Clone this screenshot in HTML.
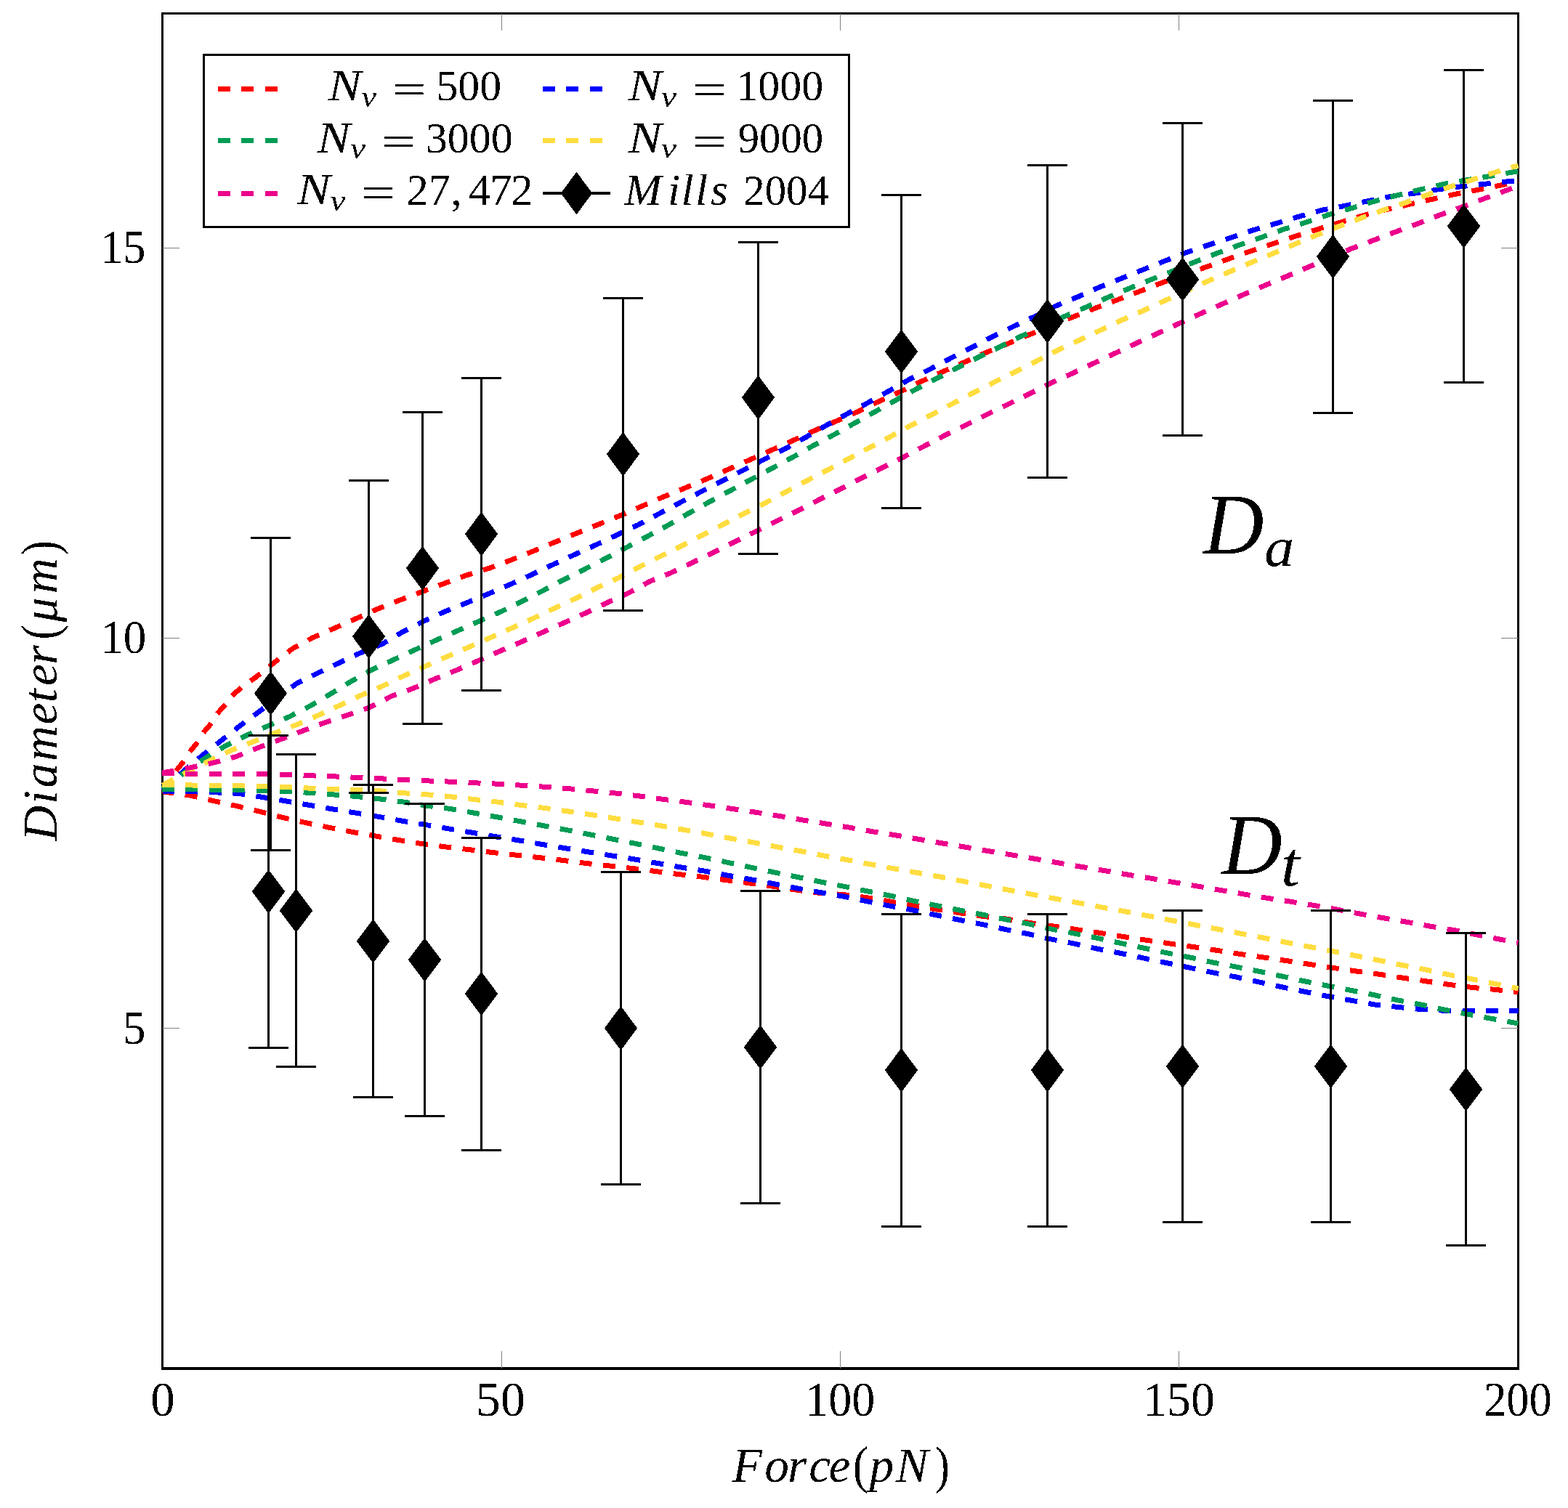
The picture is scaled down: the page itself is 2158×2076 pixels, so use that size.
<!DOCTYPE html>
<html><head><meta charset="utf-8"><title>Diameter vs Force</title><style>
html,body{margin:0;padding:0;background:#fff;overflow:hidden;}svg{display:block;}
text{font-family:"Liberation Serif","DejaVu Serif",serif;fill:#000;}
.it{font-style:italic;}
</style></head><body>
<svg width="2158" height="2076" viewBox="0 0 2158 2076">
<rect x="0" y="0" width="2158" height="2076" fill="#fff"/>
<path d="M222 17h1869v3h-1869zM222 1882h1869v4h-1869zM222 17h3v1869h-3zM2088 17h3v1869h-3z" fill="#000"/>
<path d="M690.5 1884V1860M690.5 18.5V42M1156.5 1884V1860M1156.5 18.5V42M1622.5 1884V1860M1622.5 18.5V42M223.5 341.5H247M2089.5 341.5H2066M223.5 878.5H247M2089.5 878.5H2066M223.5 1415.5H247M2089.5 1415.5H2066" stroke="#808080" stroke-width="1" fill="none"/>
<g fill="none" stroke-width="7.0" stroke-dasharray="17 15.45" stroke-linejoin="round" shape-rendering="crispEdges">
<polyline points="223.5,1091.0 232.0,1077.0 240.7,1063.1 254.2,1046.4 259.0,1037.7 273.3,1020.2 278.0,1010.7 292.4,994.0 297.1,984.4 311.5,968.5 317.0,959.7 334.5,944.6 351.6,932.6 377.7,911.9 402.9,892.8 431.2,877.5 461.1,864.5 490.2,851.5 520.4,838.0 550.4,826.1 581.0,814.5 611.2,803.3 641.8,792.0 672.9,782.4 702.7,771.2 733.3,759.0 763.3,746.5 793.3,734.3 822.9,722.2 853.1,710.0 883.1,697.0 912.7,684.1 942.9,671.8 972.9,659.2 1002.0,646.3 1031.6,633.1 1061.6,619.8 1091.2,606.5 1120.8,592.9 1151.4,579.6 1180.6,566.7 1210.0,552.4 1239.2,539.2 1268.0,525.1 1297.8,511.6 1327.8,498.4 1357.6,485.1 1387.6,472.9 1417.1,460.6 1447.0,448.3 1477.3,436.1 1507.3,424.3 1538.0,412.7 1567.8,401.4 1598.4,389.6 1628.0,378.8 1658.0,368.3 1689.8,356.8 1720.3,346.0 1751.5,335.6 1782.0,325.6 1813.2,315.7 1844.2,306.3 1875.4,296.9 1907.1,288.7 1938.0,281.7 1969.7,274.6 2001.4,267.6 2033.1,261.5 2064.8,255.2 2089.5,250.0" stroke="#ff0000" stroke-dashoffset="-2.79"/>
<polyline points="223.5,1091.0 231.2,1090.8 262.9,1095.3 294.5,1102.7 326.7,1109.8 358.2,1117.3 389.4,1125.5 421.0,1132.7 452.7,1139.2 484.7,1145.3 516.9,1151.0 548.6,1156.5 580.8,1161.6 612.2,1165.8 644.9,1169.6 677.6,1173.5 709.8,1177.1 741.8,1180.6 774.1,1184.3 806.1,1188.4 838.8,1192.0 870.8,1195.5 903.1,1199.6 935.1,1203.7 967.3,1207.3 998.0,1211.5 1031.8,1215.9 1064.1,1220.2 1095.7,1225.1 1127.8,1229.3 1160.0,1231.5 1192.0,1235.5 1224.3,1241.0 1256.3,1246.5 1288.4,1251.8 1320.6,1256.7 1352.7,1261.4 1384.5,1265.0 1416.7,1270.4 1449.4,1274.9 1481.4,1279.6 1513.7,1284.3 1545.7,1289.4 1578.0,1294.3 1610.0,1299.0 1642.2,1303.5 1673.9,1308.2 1705.9,1313.3 1737.8,1317.8 1769.9,1322.5 1802.2,1327.4 1834.2,1332.3 1866.3,1337.0 1898.8,1341.3 1930.9,1346.2 1962.9,1350.9 1995.0,1355.5 2027.1,1359.5 2059.2,1362.5 2089.5,1366.0" stroke="#ff0000" stroke-dashoffset="1.03"/>
<polyline points="223.5,1089.0 250.0,1064.0 279.7,1039.0 305.0,1019.1 330.2,999.2 356.2,980.0 382.0,960.0 408.3,941.0 437.4,926.5 466.4,912.7 494.0,899.7 525.5,886.9 553.7,870.2 582.7,855.3 612.2,842.0 642.4,829.8 673.1,817.1 702.7,804.3 732.0,791.0 761.2,777.1 790.8,763.5 820.0,750.2 849.4,736.3 879.0,722.2 907.6,706.9 936.1,691.8 964.7,676.9 993.9,662.0 1022.9,647.3 1052.4,632.0 1080.6,617.8 1109.0,602.0 1137.1,585.7 1165.1,570.2 1193.7,554.9 1221.8,539.2 1250.4,522.9 1279.4,508.6 1308.0,493.3 1337.1,478.4 1365.7,463.7 1394.7,449.4 1423.3,436.1 1454.9,420.4 1483.5,408.6 1513.1,395.3 1542.7,383.5 1573.3,371.2 1603.3,359.2 1633.5,347.3 1664.6,336.8 1695.2,326.7 1726.4,316.2 1757.3,307.3 1787.9,298.1 1819.5,289.2 1851.2,283.3 1882.9,276.7 1914.6,270.4 1946.3,266.2 1978.0,261.0 2010.8,256.8 2043.2,253.3 2075.3,249.8 2089.5,248.5" stroke="#0000ff" stroke-dashoffset="-0.95"/>
<polyline points="223.5,1089.0 231.2,1089.0 263.9,1089.8 296.5,1090.8 328.8,1092.4 360.4,1097.3 392.4,1102.7 424.7,1108.2 456.7,1113.7 488.8,1119.0 522.0,1124.5 552.7,1130.0 584.7,1135.3 616.3,1140.7 649.0,1146.1 681.0,1151.6 712.9,1156.7 744.9,1162.2 776.9,1167.6 808.8,1172.7 840.8,1177.8 872.9,1182.9 904.7,1188.4 936.7,1193.9 969.0,1199.0 998.0,1204.5 1031.8,1210.4 1064.1,1216.5 1095.7,1222.7 1127.8,1228.4 1160.0,1233.9 1192.0,1240.6 1224.3,1247.1 1256.3,1252.9 1288.4,1259.8 1320.6,1266.5 1352.7,1272.7 1384.5,1279.7 1415.1,1285.7 1446.3,1292.9 1478.0,1299.0 1510.0,1306.1 1541.8,1312.2 1573.9,1319.0 1605.1,1325.5 1637.1,1332.2 1668.8,1338.8 1700.8,1344.9 1733.0,1352.0 1765.2,1359.0 1795.9,1365.3 1828.0,1371.7 1859.7,1377.2 1891.8,1383.0 1923.9,1386.4 1955.7,1389.5 1988.1,1391.3 2021.1,1391.6 2089.5,1391.6" stroke="#0000ff" stroke-dashoffset="0.64"/>
<polyline points="223.5,1086.0 252.0,1065.0 282.8,1043.6 310.3,1026.7 339.4,1012.2 369.2,999.2 399.1,986.2 427.4,971.6 455.7,954.8 483.3,938.0 511.7,922.0 541.4,908.4 570.8,894.7 600.0,881.4 630.0,868.2 660.2,854.9 689.4,842.0 718.4,827.8 747.3,813.1 776.1,797.8 805.1,783.3 834.1,768.6 862.9,753.3 891.5,738.1 919.8,722.9 948.0,706.5 976.5,690.8 1004.9,675.5 1033.5,660.2 1062.2,644.9 1090.6,629.6 1118.8,613.7 1147.8,598.4 1175.9,582.7 1204.5,566.7 1232.0,551.4 1261.6,535.3 1290.2,520.4 1319.2,505.5 1347.8,491.2 1377.3,476.9 1405.9,462.7 1436.0,448.9 1466.1,435.1 1494.7,422.9 1524.3,409.6 1554.5,396.9 1584.5,384.7 1614.7,372.9 1644.7,360.5 1675.2,348.6 1705.7,337.3 1736.2,326.7 1766.7,315.7 1797.2,306.1 1827.7,295.8 1859.4,286.8 1890.6,277.4 1921.6,269.2 1952.8,261.5 1984.3,254.0 2016.7,248.1 2048.4,242.9 2081.2,237.1 2089.5,236.0" stroke="#009c55" stroke-dashoffset="0.72"/>
<polyline points="223.5,1086.3 263.9,1086.7 296.5,1087.1 328.8,1087.8 360.4,1088.4 393.5,1089.4 426.1,1091.4 458.4,1093.9 490.8,1096.5 523.5,1100.0 555.7,1104.1 587.3,1109.2 619.0,1113.4 651.6,1119.0 683.7,1124.7 715.3,1130.6 746.9,1136.5 779.0,1142.4 810.8,1148.6 842.9,1155.1 874.9,1161.4 906.7,1168.0 938.2,1174.5 970.0,1180.6 1000.0,1187.0 1033.5,1194.1 1065.1,1200.8 1097.1,1207.3 1128.8,1213.9 1161.0,1220.2 1192.7,1226.7 1224.3,1232.9 1255.9,1240.0 1288.0,1246.5 1320.0,1252.9 1351.6,1259.0 1384.0,1265.7 1415.1,1271.8 1446.9,1279.0 1478.6,1285.1 1510.2,1291.4 1542.2,1298.4 1573.9,1305.1 1605.9,1311.8 1637.6,1318.0 1669.2,1324.9 1701.0,1331.0 1733.1,1337.3 1765.4,1344.2 1795.9,1350.9 1828.0,1357.3 1860.1,1363.5 1891.8,1369.9 1923.4,1376.9 1955.1,1382.9 1987.2,1389.9 2018.8,1396.0 2050.9,1402.0 2081.8,1407.6 2089.5,1409.0" stroke="#009c55" stroke-dashoffset="0.53"/>
<polyline points="223.5,1081.0 256.0,1064.0 288.1,1047.4 318.0,1032.9 347.8,1021.4 378.9,1008.9 408.3,997.7 438.1,984.7 468.0,970.9 497.1,957.1 526.5,944.5 556.1,930.2 585.7,916.9 615.3,903.9 644.9,891.0 674.9,877.8 704.7,864.5 734.1,851.2 763.3,837.3 792.4,823.7 821.8,809.0 851.0,795.7 881.5,779.6 909.2,765.7 938.2,751.4 966.7,736.7 995.7,721.8 1024.9,706.5 1053.5,692.2 1082.0,676.9 1110.6,661.6 1139.2,646.9 1168.2,631.4 1196.7,616.3 1224.9,601.4 1253.9,585.5 1282.4,570.8 1311.4,555.5 1339.6,540.8 1368.8,525.9 1397.8,511.6 1426.9,496.9 1455.9,482.0 1485.5,468.2 1514.7,454.5 1543.7,440.8 1573.7,427.6 1603.5,413.7 1632.0,401.0 1660.0,388.0 1691.6,374.4 1721.7,361.5 1752.2,349.0 1782.0,336.1 1812.0,323.7 1843.0,311.5 1873.0,300.4 1902.9,289.6 1933.4,279.3 1963.9,268.5 1994.4,257.5 2025.6,247.6 2056.6,237.5 2084.3,229.3 2089.5,228.0" stroke="#ffdd40" stroke-dashoffset="0.08"/>
<polyline points="223.5,1080.6 263.9,1081.0 296.5,1081.6 328.8,1081.8 360.4,1082.7 393.5,1083.7 426.1,1085.1 458.4,1086.3 490.8,1087.3 523.5,1088.8 555.7,1091.8 588.4,1093.9 618.0,1096.5 652.7,1100.6 684.7,1104.1 716.9,1108.4 749.4,1112.4 781.6,1116.9 813.7,1121.6 845.9,1126.7 878.0,1131.8 909.8,1136.9 941.8,1142.4 973.9,1148.2 1005.9,1154.3 1038.0,1160.0 1069.6,1165.9 1101.2,1171.6 1132.9,1177.8 1165.1,1183.5 1196.7,1189.6 1228.8,1195.5 1260.8,1201.2 1292.7,1206.9 1324.7,1213.1 1356.7,1219.2 1386.5,1224.9 1420.2,1231.2 1452.0,1237.1 1484.1,1242.9 1516.1,1249.0 1548.0,1254.7 1580.0,1260.8 1611.6,1266.9 1643.9,1273.1 1675.3,1279.0 1707.1,1285.1 1739.2,1291.2 1770.8,1297.5 1802.8,1303.5 1834.9,1309.7 1866.7,1315.8 1898.2,1322.2 1930.0,1328.7 1962.1,1334.9 1993.8,1341.8 2025.9,1347.9 2057.1,1354.3 2089.5,1360.8" stroke="#ffdd40" stroke-dashoffset="0.63"/>
<polyline points="223.5,1064.0 263.0,1056.6 294.8,1049.8 325.6,1041.3 356.2,1029.0 386.8,1017.6 416.7,1006.1 447.3,994.6 477.9,984.6 508.5,973.9 538.8,958.4 568.4,947.8 598.0,934.9 628.0,922.7 657.8,909.8 687.3,896.7 716.9,883.9 746.5,870.6 776.5,857.3 805.7,844.1 835.3,829.8 864.7,816.5 894.5,800.3 922.9,788.8 952.9,774.5 982.0,760.6 1010.6,746.3 1040.2,731.6 1068.8,717.3 1098.0,703.1 1126.9,688.2 1156.1,673.5 1184.7,658.6 1213.7,644.3 1242.7,629.6 1271.0,614.7 1300.4,599.4 1329.4,585.1 1358.6,570.4 1387.6,556.5 1416.7,542.2 1445.7,527.6 1475.3,514.3 1504.5,500.4 1533.9,486.7 1563.1,472.9 1592.7,459.2 1621.8,445.7 1651.5,432.1 1681.1,419.0 1710.9,405.8 1740.9,392.9 1771.4,380.2 1801.5,367.3 1831.0,354.6 1860.6,342.0 1890.6,330.7 1920.9,319.2 1951.0,308.0 1982.0,295.8 2012.0,285.0 2042.5,273.5 2073.0,262.2 2089.5,256.0" stroke="#ec008c" stroke-dashoffset="0.62"/>
<polyline points="223.5,1064.7 263.9,1065.3 296.5,1065.3 329.2,1065.3 360.8,1065.9 393.5,1066.3 426.1,1067.8 458.8,1068.8 491.4,1070.4 523.5,1071.8 555.7,1073.5 588.4,1074.9 618.3,1076.1 653.1,1077.8 685.7,1079.2 718.0,1081.2 750.4,1083.3 782.7,1085.7 814.9,1088.8 847.3,1092.0 879.6,1095.9 911.6,1100.2 943.9,1104.3 975.9,1108.8 1008.0,1113.5 1040.0,1118.2 1072.0,1123.3 1103.9,1128.8 1135.9,1133.9 1168.0,1139.0 1200.2,1144.7 1232.2,1149.8 1264.1,1155.3 1296.1,1160.8 1328.2,1166.1 1360.0,1171.6 1389.5,1176.4 1423.9,1182.2 1456.1,1187.8 1488.2,1193.3 1520.2,1198.6 1552.0,1204.1 1584.1,1209.2 1616.1,1214.7 1648.0,1220.0 1680.0,1225.5 1712.0,1231.0 1743.9,1236.3 1775.5,1241.1 1807.7,1246.3 1839.8,1252.0 1871.9,1258.1 1904.0,1263.8 1936.1,1269.3 1967.8,1275.1 1999.9,1280.3 2032.0,1286.7 2063.9,1293.1 2089.5,1297.6" stroke="#ec008c" stroke-dashoffset="0.55"/>
</g>
<path d="M372.5 740.5V1170.5M345.0 740.5H400.0M345.0 1170.5H400.0M507.5 661.5V1091.5M480.0 661.5H535.0M480.0 1091.5H535.0M581.5 567.5V996.5M554.0 567.5H609.0M554.0 996.5H609.0M662.5 520.5V950.5M635.0 520.5H690.0M635.0 950.5H690.0M857.5 410.5V840.5M830.0 410.5H885.0M830.0 840.5H885.0M1043.5 333.5V762.5M1016.0 333.5H1071.0M1016.0 762.5H1071.0M1240.5 268.5V699.5M1213.0 268.5H1268.0M1213.0 699.5H1268.0M1441.5 227.5V657.5M1414.0 227.5H1469.0M1414.0 657.5H1469.0M1627.5 169.5V599.5M1600.0 169.5H1655.0M1600.0 599.5H1655.0M1834.5 138.5V568.5M1807.0 138.5H1862.0M1807.0 568.5H1862.0M2014.5 96.5V526.5M1987.0 96.5H2042.0M1987.0 526.5H2042.0M369.5 1012.5V1442.5M342.0 1012.5H397.0M342.0 1442.5H397.0M407.5 1038.5V1468.5M380.0 1038.5H435.0M380.0 1468.5H435.0M513.5 1080.5V1510.5M486.0 1080.5H541.0M486.0 1510.5H541.0M584.5 1106.5V1536.5M557.0 1106.5H612.0M557.0 1536.5H612.0M662.5 1153.5V1583.5M635.0 1153.5H690.0M635.0 1583.5H690.0M854.5 1200.5V1630.5M827.0 1200.5H882.0M827.0 1630.5H882.0M1046.5 1226.5V1656.5M1019.0 1226.5H1074.0M1019.0 1656.5H1074.0M1240.5 1258.5V1688.5M1213.0 1258.5H1268.0M1213.0 1688.5H1268.0M1441.5 1258.5V1688.5M1414.0 1258.5H1469.0M1414.0 1688.5H1469.0M1627.5 1253.5V1682.5M1600.0 1253.5H1655.0M1600.0 1682.5H1655.0M1831.5 1253.5V1682.5M1804.0 1253.5H1859.0M1804.0 1682.5H1859.0M2017.5 1284.5V1714.5M1990.0 1284.5H2045.0M1990.0 1714.5H2045.0" stroke="#000" stroke-width="3" fill="none"/>
<path d="M372.5 924.1L395.2 954.5L372.5 984.9L349.8 954.5ZM507.5 845.8L530.2 876.2L507.5 906.6L484.8 876.2ZM581.5 751.8L604.2 782.2L581.5 812.6L558.8 782.2ZM662.5 704.8L685.2 735.2L662.5 765.6L639.8 735.2ZM857.5 594.8L880.2 625.2L857.5 655.6L834.8 625.2ZM1043.5 516.8L1066.2 547.2L1043.5 577.6L1020.8 547.2ZM1240.5 453.6L1263.2 484.0L1240.5 514.4L1217.8 484.0ZM1441.5 411.8L1464.2 442.2L1441.5 472.6L1418.8 442.2ZM1627.5 354.2L1650.2 384.6L1627.5 415.0L1604.8 384.6ZM1834.5 322.8L1857.2 353.2L1834.5 383.6L1811.8 353.2ZM2014.5 280.9L2037.2 311.3L2014.5 341.7L1991.8 311.3ZM369.5 1196.9L392.2 1227.3L369.5 1257.7L346.8 1227.3ZM407.5 1223.2L430.2 1253.6L407.5 1284.0L384.8 1253.6ZM513.5 1265.2L536.2 1295.6L513.5 1326.0L490.8 1295.6ZM584.5 1291.0L607.2 1321.4L584.5 1351.8L561.8 1321.4ZM662.5 1337.7L685.2 1368.1L662.5 1398.5L639.8 1368.1ZM854.5 1385.1L877.2 1415.5L854.5 1445.9L831.8 1415.5ZM1046.5 1411.2L1069.2 1441.6L1046.5 1472.0L1023.8 1441.6ZM1240.5 1442.8L1263.2 1473.2L1240.5 1503.6L1217.8 1473.2ZM1441.5 1442.8L1464.2 1473.2L1441.5 1503.6L1418.8 1473.2ZM1627.5 1437.6L1650.2 1468.0L1627.5 1498.4L1604.8 1468.0ZM1831.5 1437.6L1854.2 1468.0L1831.5 1498.4L1808.8 1468.0ZM2017.5 1469.2L2040.2 1499.6L2017.5 1530.0L1994.8 1499.6Z" fill="#000" shape-rendering="crispEdges"/>
<rect x="280.5" y="75.5" width="888" height="237" fill="#fff" stroke="#000" stroke-width="3"/>
<g fill="none" stroke-width="7.0" stroke-dasharray="17 15.45" shape-rendering="crispEdges">
<path d="M300 122.5h93" stroke="#ff0000"/>
<path d="M747 122.5h93" stroke="#0000ff"/>
<path d="M300 193.9h93" stroke="#009c55"/>
<path d="M747 193.9h93" stroke="#ffdd40"/>
<path d="M300 266h93" stroke="#ec008c"/>
</g>
<path d="M747 266h93" stroke="#000" stroke-width="4"/>
<path d="M793.5 236.7L815.2 266L793.5 295.3L771.8 266Z" fill="#000" shape-rendering="crispEdges"/>
<defs><filter id="al" filterUnits="userSpaceOnUse" x="0" y="0" width="2158" height="2076"><feComponentTransfer><feFuncA type="discrete" tableValues="0 1"/></feComponentTransfer></filter></defs>
<g filter="url(#al)">
<text><tspan x="207.19" y="1948.93" font-size="67.11" textLength="33.53" lengthAdjust="spacingAndGlyphs">0</tspan></text>
<text><tspan x="655.11" y="1948.93" font-size="67.11" textLength="67.73" lengthAdjust="spacingAndGlyphs">50</tspan></text>
<text><tspan x="1108.19" y="1948.93" font-size="67.11" textLength="96.11" lengthAdjust="spacingAndGlyphs">100</tspan></text>
<text><tspan x="1573.25" y="1948.93" font-size="67.11" textLength="98.51" lengthAdjust="spacingAndGlyphs">150</tspan></text>
<text><tspan x="2042.15" y="1948.93" font-size="67.11" textLength="93.49" lengthAdjust="spacingAndGlyphs">200</tspan></text>
<text><tspan x="169.31" y="1437.44" font-size="66.47" textLength="31.18" lengthAdjust="spacingAndGlyphs">5</tspan></text>
<text><tspan x="138.39" y="899.15" font-size="65.04" textLength="62.97" lengthAdjust="spacingAndGlyphs">10</tspan></text>
<text><tspan x="138.47" y="362.24" font-size="65.67" textLength="62.01" lengthAdjust="spacingAndGlyphs">15</tspan></text>
<text><tspan x="1007.8 1052.17 1083.94 1113.33 1140.62" y="2040.1" font-size="67.33" class="it">Force</tspan><tspan x="1173.76" y="2040.64" font-size="70.85" textLength="21.47" lengthAdjust="spacingAndGlyphs">(</tspan><tspan x="1196.61 1232.72" y="2040.1" font-size="67.33" class="it">pN</tspan><tspan x="1286.63" y="2040.64" font-size="70.85" textLength="20.17" lengthAdjust="spacingAndGlyphs">)</tspan></text>
<text><tspan x="1656.34" y="761.9" font-size="117.56" textLength="83.35" lengthAdjust="spacingAndGlyphs" class="it">D</tspan><tspan x="1740.25" y="779.25" font-size="75.21" textLength="40.81" lengthAdjust="spacingAndGlyphs" class="it">a</tspan></text>
<text><tspan x="1681.44" y="1202.9" font-size="117.56" textLength="83.25" lengthAdjust="spacingAndGlyphs" class="it">D</tspan><tspan x="1762.84" y="1218.93" font-size="86.61" textLength="26.3" lengthAdjust="spacingAndGlyphs" class="it">t</tspan></text>
<text><tspan x="451.81" y="138" font-size="61.68" textLength="45.67" lengthAdjust="spacingAndGlyphs" class="it">N</tspan><tspan x="497.61" y="146.5" font-size="40" textLength="20.54" lengthAdjust="spacingAndGlyphs" class="it">v</tspan> <tspan x="539.84" y="141.87" font-size="57.2" textLength="46.94" lengthAdjust="spacingAndGlyphs">=</tspan> <tspan x="600.46" y="138.1" font-size="59.85" textLength="89.68" lengthAdjust="spacingAndGlyphs">500</tspan></text>
<text><tspan x="436.61" y="210.3" font-size="61.68" textLength="45.67" lengthAdjust="spacingAndGlyphs" class="it">N</tspan><tspan x="482.3" y="218.1" font-size="40" textLength="20.64" lengthAdjust="spacingAndGlyphs" class="it">v</tspan> <tspan x="524.56" y="213.62" font-size="56" textLength="47.79" lengthAdjust="spacingAndGlyphs">=</tspan> <tspan x="585.75" y="210.4" font-size="60.15" textLength="120.1" lengthAdjust="spacingAndGlyphs">3000</tspan></text>
<text><tspan x="408.92" y="281.25" font-size="61.3" textLength="45.86" lengthAdjust="spacingAndGlyphs" class="it">N</tspan><tspan x="454.5" y="289.78" font-size="41.91" textLength="20.85" lengthAdjust="spacingAndGlyphs" class="it">v</tspan> <tspan x="496.47" y="285.32" font-size="58.4" textLength="47.67" lengthAdjust="spacingAndGlyphs">=</tspan> <tspan x="559.39 589.6 620.43 645.04 674.13 703.31" y="281.5" font-size="60.6">27,472</tspan></text>
<text><tspan x="864.72" y="137.9" font-size="62.14" textLength="46.13" lengthAdjust="spacingAndGlyphs" class="it">N</tspan><tspan x="909.78" y="146.58" font-size="42.34" textLength="21.37" lengthAdjust="spacingAndGlyphs" class="it">v</tspan> <tspan x="952.67" y="142.87" font-size="59.6" textLength="47.67" lengthAdjust="spacingAndGlyphs">=</tspan> <tspan x="1013.15" y="137.91" font-size="58.81" textLength="120" lengthAdjust="spacingAndGlyphs">1000</tspan></text>
<text><tspan x="864.72" y="209.7" font-size="60.61" textLength="46.13" lengthAdjust="spacingAndGlyphs" class="it">N</tspan><tspan x="909.78" y="217.31" font-size="38.94" textLength="21.37" lengthAdjust="spacingAndGlyphs" class="it">v</tspan> <tspan x="952.67" y="213.57" font-size="57.2" textLength="47.67" lengthAdjust="spacingAndGlyphs">=</tspan> <tspan x="1015.79" y="210.3" font-size="59.56" textLength="117.31" lengthAdjust="spacingAndGlyphs">9000</tspan></text>
<text><tspan x="859.46 918.94 937.54 956.94 978.09" y="281.9" font-size="61.53" class="it">Mills</tspan> <tspan x="1023.3" y="281.71" font-size="58.67" textLength="117.58" lengthAdjust="spacingAndGlyphs">2004</tspan></text>
<g transform="rotate(-90)"><text><tspan x="-1157.85 -1106.93 -1084.5 -1048.03 -997.45 -967.23 -944.05 -914.78" y="78.3" font-size="67.63" class="it">Diameter</tspan><tspan x="-880.61" y="78.8" font-size="71.52" textLength="20.43" lengthAdjust="spacingAndGlyphs">(</tspan><tspan x="-856.59 -817.33" y="78.3" font-size="67.63" class="it">μm</tspan><tspan x="-763.92" y="78.8" font-size="71.52" textLength="19.66" lengthAdjust="spacingAndGlyphs">)</tspan></text></g>
</g>
</svg></body></html>
